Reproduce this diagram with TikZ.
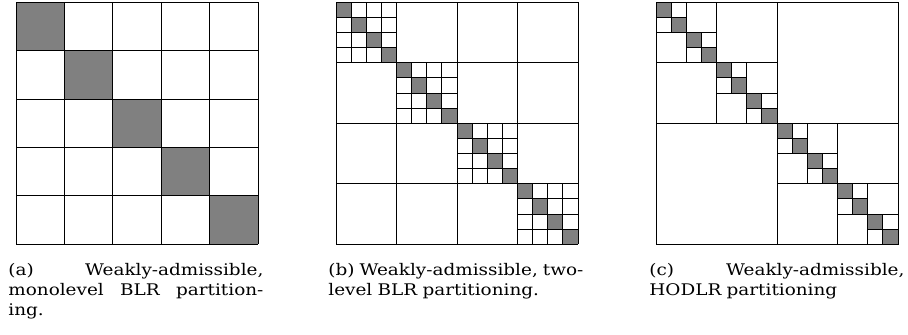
\documentclass[tikz,border=0pt]{standalone}
\usepackage{fontspec}
\setmainfont{DejaVu Serif}[FakeStretch=1.15]
\usepackage{xcolor}
\usepackage{tikz}
\definecolor{Ink}{HTML}{000000}
\definecolor{Dense}{HTML}{808080}
\tikzset{
  cellline/.style={draw=Ink,line width=0.5pt},
  densecell/.style={fill=Dense},
  caption/.style={anchor=north west,inner sep=0pt,text width=127.5pt,align=left,font=\fontsize{8}{10}\selectfont}
}
\newcommand{\capline}[1]{\leavevmode\hbox to 127.5pt{#1}}

\begin{document}
\begin{tikzpicture}[x=0.5pt,y=-0.5pt]
  \useasboundingbox (0,0) rectangle (908,335);
  % (a) monolevel BLR
  \begin{scope}[shift={(16,2.3)}]
    \foreach \k in {0,...,4}
      \fill[densecell] (\k*48.4,\k*48.4) rectangle ++(48.4,48.4);
    \foreach \k in {0,...,5} {
      \draw[cellline] (\k*48.4,0) -- (\k*48.4,242);
      \draw[cellline] (0,\k*48.4) -- (242,\k*48.4);
    }
  \end{scope}
  % (b) two-level BLR
  \begin{scope}[shift={(336,2.3)}]
    \foreach \k in {0,...,15}
      \fill[densecell] (\k*15.125,\k*15.125) rectangle ++(15.125,15.125);
    \foreach \k in {0,...,4} {
      \draw[cellline] (\k*60.5,0) -- (\k*60.5,242);
      \draw[cellline] (0,\k*60.5) -- (242,\k*60.5);
    }
    \foreach \d in {0,...,3}
      \foreach \k in {1,2,3} {
        \draw[cellline] (\d*60.5+\k*15.125,\d*60.5) -- ++(0,60.5);
        \draw[cellline] (\d*60.5,\d*60.5+\k*15.125) -- ++(60.5,0);
      }
  \end{scope}
  % (c) HODLR
  \begin{scope}[shift={(656,2.3)}]
    \foreach \k in {0,...,15}
      \fill[densecell] (\k*15.125,\k*15.125) rectangle ++(15.125,15.125);
    \draw[cellline] (0,0) rectangle (242,242);
    \foreach \cnt in {1,2,4,8} {
      \pgfmathsetmacro{\blk}{242/\cnt}
      \foreach \j in {1,...,\cnt} {
        \draw[cellline] ({(\j-1)*\blk+\blk/2},{(\j-1)*\blk}) -- ++(0,\blk);
        \draw[cellline] ({(\j-1)*\blk},{(\j-1)*\blk+\blk/2}) -- ++(\blk,0);
      }
    }
  \end{scope}
  % captions
  \node[caption] (capa) at (8,263.3) {\capline{(a)\hfill Weakly-admissible,}\\\capline{monolevel\hfill BLR\hfill partition-}\\ing.};
  \node[caption] (capb) at (328,263.3) {\capline{(b)\hfill Weakly-admissible,\hfill two-}\\level BLR partitioning.};
  \node[caption] (capc) at (649,263.3) {\capline{(c)\hfill Weakly-admissible,}\\HODLR partitioning};
\end{tikzpicture}
\end{document}
